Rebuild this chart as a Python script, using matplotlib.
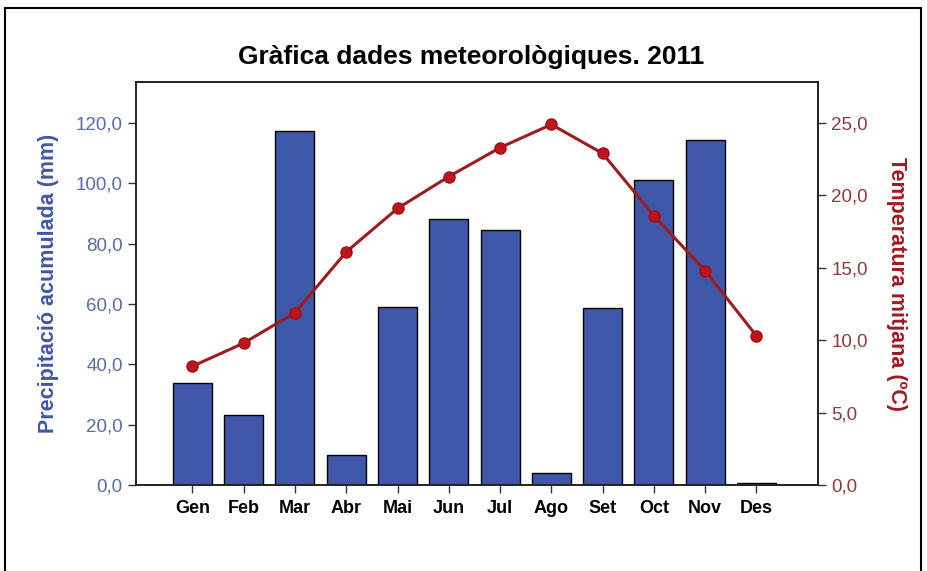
import matplotlib
matplotlib.use('Agg')
import matplotlib.pyplot as plt
from matplotlib.ticker import FuncFormatter
from matplotlib.patches import Rectangle

plt.rcParams['font.family'] = ['Liberation Sans', 'DejaVu Sans']

# data
months = ['Gen', 'Feb', 'Mar', 'Abr', 'Mai', 'Jun', 'Jul', 'Ago', 'Set', 'Oct', 'Nov', 'Des']
precip = [33.9, 23.3, 117.4, 9.8, 59.0, 88.3, 84.5, 3.9, 58.8, 101.0, 114.5, 0.8]
temp = [8.2, 9.8, 11.9, 16.1, 19.1, 21.3, 23.3, 24.9, 22.9, 18.6, 14.8, 10.3]

blue = '#3F57A8'
dark_red = '#9E1B20'

fig = plt.figure(figsize=(9.27, 5.71), dpi=100)
ax = fig.add_axes([0.1467, 0.1506, 0.7357, 0.7058])

x = list(range(len(months)))
ax.bar(x, precip, width=0.76, color=blue, edgecolor='black', linewidth=1.0, zorder=2)
ax.set_xlim(-1.1, 12.2)
ax.set_ylim(0, 133.6)
ax.set_xticks(x)
ax.set_xticklabels(months, fontsize=13, fontweight='bold')
ax.set_yticks(range(0, 121, 20))

fmt = FuncFormatter(lambda v, p: ('%.1f' % v).replace('.', ','))
ax.yaxis.set_major_formatter(fmt)
ax.tick_params(axis='y', labelsize=13.5, labelcolor='#5A6AAE', length=6, width=1, color='#333333')
ax.tick_params(axis='x', length=6, width=1, color='#333333', pad=5)
ax.set_ylabel('Precipitació acumulada (mm)', fontsize=15.5, fontweight='bold', color=blue, labelpad=12)

ax2 = ax.twinx()
ax2.plot(x, temp, color=dark_red, linewidth=2.2, marker='o', markersize=8,
         markerfacecolor='#C0141C', markeredgecolor='#A01018', zorder=3)
ax2.set_ylim(0, 133.6 * 25 / 120)
ax2.set_yticks(range(0, 26, 5))
ax2.yaxis.set_major_formatter(fmt)
ax2.tick_params(axis='y', labelsize=13.5, labelcolor='#8E3A3C', length=6, width=1, color='#333333')
ax2.set_ylabel('Temperatura mitjana (ºC)', fontsize=15.5, fontweight='bold', color=dark_red,
               rotation=270, labelpad=28)

for a in (ax, ax2):
    for s in a.spines.values():
        s.set_color('#222222')
        s.set_linewidth(1.2)

fig.text(0.508, 0.90, 'Gràfica dades meteorològiques. 2011', ha='center', va='center',
         fontsize=19, fontweight='bold')

# outer frame
fig.patches.append(Rectangle((0.0054, -0.1), 0.988, 1.086, transform=fig.transFigure,
                             fill=False, edgecolor='black', linewidth=1.5))

fig.savefig('out.png', dpi=100)
